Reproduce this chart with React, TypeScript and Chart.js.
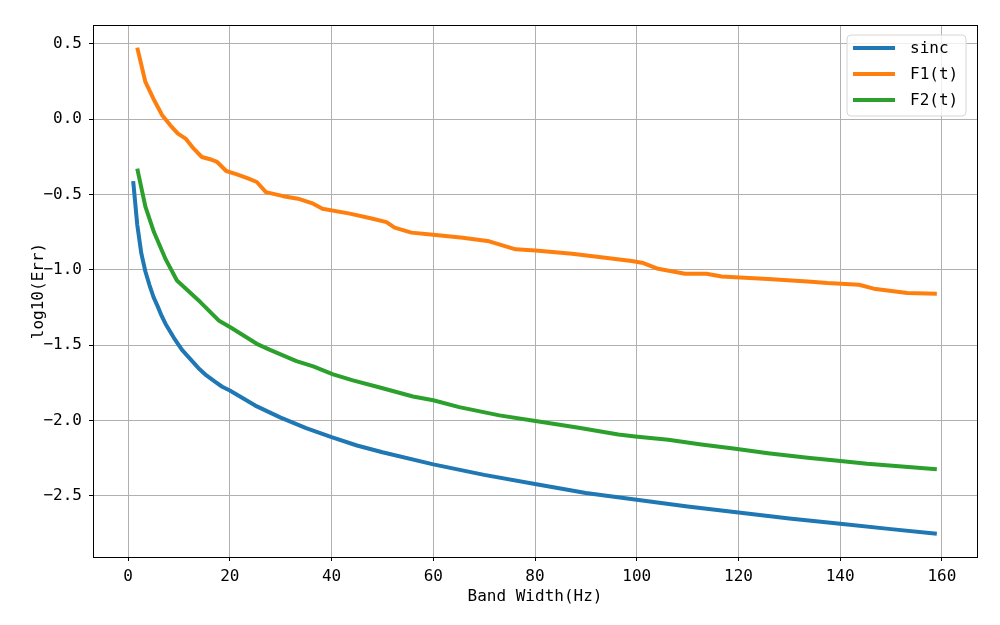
import React, { useEffect, useRef } from "react";
import { Chart, registerables } from "chart.js";

Chart.register(...registerables);

const sincX = [1, 1.8, 2.6, 3.4, 4.2, 5.0, 5.8, 6.6, 7.4, 9, 10.6, 12.2, 13.8, 15.4, 17, 18.5, 20, 22.5, 25, 27.5, 30, 35, 40, 45, 50, 60, 70, 80, 90, 100, 110, 120, 130, 140, 150, 159];
const sincY = [-0.41, -0.7, -0.89, -1.01, -1.1, -1.18, -1.24, -1.305, -1.36, -1.45, -1.53, -1.59, -1.65, -1.7, -1.74, -1.775, -1.8, -1.85, -1.9, -1.94, -1.98, -2.05, -2.11, -2.165, -2.21, -2.29, -2.36, -2.42, -2.48, -2.525, -2.57, -2.61, -2.65, -2.685, -2.72, -2.75];

const f1X = [1.8, 3.4, 5.0, 6.7, 8.3, 9.8, 11.3, 12.9, 14.5, 16.1, 17.5, 19.3, 21.4, 23.7, 25.3, 27.1, 30.5, 33.4, 36.4, 38.2, 43.6, 48.1, 50.8, 52.4, 55.7, 60, 65.8, 71, 73.6, 76.2, 80.1, 87.3, 93.8, 99, 101.3, 104.2, 109.5, 113.7, 116.7, 119.4, 125.8, 133.6, 137.5, 143.7, 146.6, 153.2, 159];
const f1Y = [0.476, 0.248, 0.135, 0.027, -0.04, -0.095, -0.128, -0.195, -0.25, -0.265, -0.283, -0.343, -0.365, -0.394, -0.416, -0.483, -0.51, -0.527, -0.56, -0.593, -0.626, -0.66, -0.682, -0.719, -0.752, -0.766, -0.786, -0.81, -0.837, -0.863, -0.87, -0.892, -0.919, -0.941, -0.954, -0.992, -1.025, -1.025, -1.043, -1.049, -1.06, -1.076, -1.087, -1.098, -1.124, -1.153, -1.157];

const f2X = [1.8, 3.4, 5.1, 7.4, 9.6, 14.2, 17.8, 20.1, 25.3, 27.9, 33.1, 36.4, 40.3, 44.2, 49.5, 56, 60, 65.1, 73, 80.1, 88.6, 96.4, 99.7, 106.2, 112.7, 119.4, 125.8, 133.6, 139.1, 145.3, 159];
const f2Y = [-0.327, -0.58, -0.75, -0.93, -1.07, -1.213, -1.335, -1.38, -1.49, -1.53, -1.605, -1.64, -1.693, -1.733, -1.78, -1.84, -1.865, -1.91, -1.965, -2.003, -2.047, -2.092, -2.105, -2.127, -2.158, -2.187, -2.216, -2.246, -2.264, -2.286, -2.322];

const seriesNames = ["sinc", "F1(t)", "F2(t)"];
const seriesColors = ["#1f77b4", "#ff7f0e", "#2ca02c"];
const xTicks = [0, 20, 40, 60, 80, 100, 120, 140, 160];
const yTicks = [-2.5, -2.0, -1.5, -1.0, -0.5, 0.0, 0.5];
const xTitle = "Band Width(Hz)";
const yTitle = "log10(Err)";

const FONT = "'DejaVu Sans Mono', monospace";

const pts = (xs: number[], ys: number[]) => xs.map((x, i) => ({ x, y: ys[i] }));

const framePlugin = {
  id: "frameAndLegend",
  afterDraw(chart: any) {
    const { ctx, chartArea } = chart;
    ctx.save();
    ctx.strokeStyle = "#000";
    ctx.lineWidth = 1;
    ctx.strokeRect(
      Math.round(chartArea.left) + 0.5,
      Math.round(chartArea.top) + 0.5,
      Math.round(chartArea.right - chartArea.left),
      Math.round(chartArea.bottom - chartArea.top)
    );
    const bx = 847, by = 35, bw = 119, bh = 81, r = 4;
    ctx.beginPath();
    ctx.moveTo(bx + r, by);
    ctx.lineTo(bx + bw - r, by);
    ctx.quadraticCurveTo(bx + bw, by, bx + bw, by + r);
    ctx.lineTo(bx + bw, by + bh - r);
    ctx.quadraticCurveTo(bx + bw, by + bh, bx + bw - r, by + bh);
    ctx.lineTo(bx + r, by + bh);
    ctx.quadraticCurveTo(bx, by + bh, bx, by + bh - r);
    ctx.lineTo(bx, by + r);
    ctx.quadraticCurveTo(bx, by, bx + r, by);
    ctx.closePath();
    ctx.fillStyle = "rgba(255,255,255,0.8)";
    ctx.fill();
    ctx.strokeStyle = "#d6d6d6";
    ctx.lineWidth = 1;
    ctx.stroke();
    const rows = [48, 74, 100];
    ctx.font = `16px ${FONT}`;
    ctx.textBaseline = "middle";
    ctx.textAlign = "left";
    chart.data.datasets.forEach((ds: any, i: number) => {
      ctx.strokeStyle = ds.borderColor;
      ctx.lineWidth = 4;
      ctx.beginPath();
      ctx.moveTo(853, rows[i]);
      ctx.lineTo(895, rows[i]);
      ctx.stroke();
      ctx.fillStyle = "#000";
      ctx.fillText(ds.label, 910, rows[i] + 1);
    });
    ctx.restore();
  },
};

export default function App() {
  const ref = useRef<HTMLCanvasElement>(null);
  useEffect(() => {
    if (!ref.current) return;
    const chart = new Chart(ref.current, {
      type: "line",
      data: {
        datasets: [
          { label: seriesNames[0], data: pts(sincX, sincY), borderColor: seriesColors[0] },
          { label: seriesNames[1], data: pts(f1X, f1Y), borderColor: seriesColors[1] },
          { label: seriesNames[2], data: pts(f2X, f2Y), borderColor: seriesColors[2] },
        ].map((d) => ({ ...d, borderWidth: 4, pointRadius: 0, tension: 0, fill: false, backgroundColor: d.borderColor, borderCapStyle: "butt", borderJoinStyle: "round" })),
      },
      options: {
        animation: false,
        responsive: false,
        devicePixelRatio: 1,
        layout: { padding: { left: 0, right: 23, top: 25, bottom: 0 } },
        plugins: { legend: { display: false }, tooltip: { enabled: false } },
        scales: {
          x: {
            type: "linear",
            min: -6.9,
            max: 166.9,
            afterFit: (s: any) => { s.height = 68; },
            afterBuildTicks: (s: any) => { s.ticks = xTicks.map((v) => ({ value: v })); },
            grid: { color: "#b0b0b0", lineWidth: 1, tickColor: "#000", tickLength: 4, drawTicks: true },
            border: { display: false },
            ticks: { color: "#000", font: { family: FONT, size: 16 }, padding: 6, maxRotation: 0, callback: (v: any) => String(v) },
            title: { display: true, text: xTitle, color: "#000", font: { family: FONT, size: 16 }, padding: { top: 0, bottom: 19 } },
          },
          y: {
            type: "linear",
            min: -2.905,
            max: 0.626,
            afterFit: (s: any) => { s.width = 93; },
            afterBuildTicks: (s: any) => { s.ticks = yTicks.map((v) => ({ value: v })); },
            grid: { color: "#b0b0b0", lineWidth: 1, tickColor: "#000", tickLength: 4, drawTicks: true },
            border: { display: false },
            ticks: {
              color: "#000",
              font: { family: FONT, size: 16 },
              padding: 7,
              callback: (v: any) => (v < 0 ? "\u2212" : "") + Math.abs(Number(v)).toFixed(1),
            },
            title: { display: true, text: yTitle, color: "#000", font: { family: FONT, size: 16 }, padding: { top: 29, bottom: 0 } },
          },
        },
      },
      plugins: [framePlugin],
    } as any);
    return () => chart.destroy();
  }, []);
  return (
    <div style={{ position: "fixed", left: 0, top: 0, width: 1000, height: 625, background: "#fff" }}>
      <canvas ref={ref} width={1000} height={625} />
    </div>
  );
}
